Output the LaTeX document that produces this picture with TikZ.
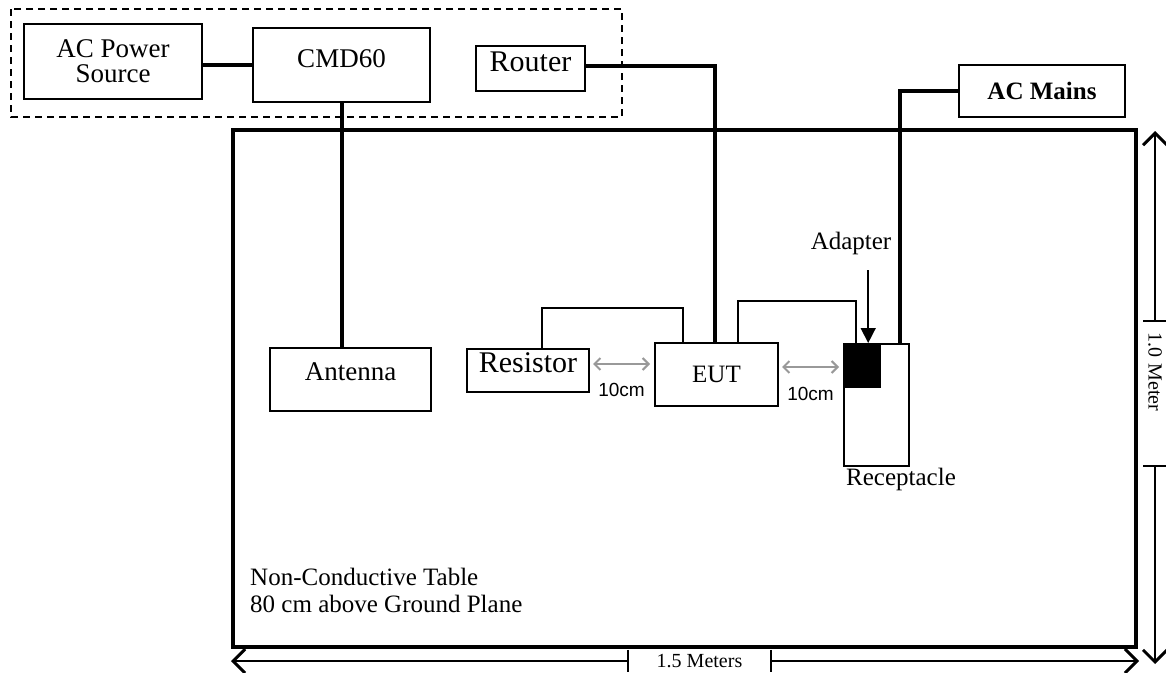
\documentclass[tikz,border=0pt]{standalone}
\usepackage{fontspec}
\setmainfont{Liberation Serif}
\newfontfamily\arialfont{Liberation Sans}
\usetikzlibrary{arrows.meta, positioning, calc}
\tikzset{
  unit/.style={
    rectangle, draw=black, line width=2pt, fill=white,
    inner sep=0pt, align=center,
    font=\fontsize{27}{25}\selectfont
  },
  lift/.style={text depth=#1},
  wire/.style={line width=4pt, draw=black},
  thinwire/.style={line width=2pt, draw=black},
  gaparrow/.style={
    {Straight Barb[length=6pt,width=12pt]}-{Straight Barb[length=6pt,width=12pt]},
    line width=2pt, draw=black!40
  },
  gaptext/.style={font=\arialfont\fontsize{19}{19}\selectfont, inner sep=0pt},
  dimarrow/.style={-{Straight Barb[length=12pt,width=24pt,line width=3pt]}, line width=1.5pt},
  dimtext/.style={font=\fontsize{20}{20}\selectfont, inner sep=0pt},
  pointer/.style={-{Triangle[length=15pt,width=15pt]}, line width=1.5pt},
  note/.style={font=\fontsize{25}{27}\selectfont, inner sep=0pt}
}
\begin{document}
\begin{tikzpicture}[x=1pt,y=-1pt]
  \useasboundingbox (0,0) rectangle (1166,672);
  \draw[line width=1.5pt, dash pattern=on 7pt off 5pt] (11,9) rectangle (622,117);
  \node[draw, line width=4pt, inner sep=0pt,
        minimum width=903pt, minimum height=517pt] (tbl) at (684.5,388.5) {};

  \node[unit, minimum width=178pt, minimum height=75pt] (acsrc) at (113,61.5) {AC Power\\Source};
  \node[unit, lift=12pt, minimum width=177pt, minimum height=74pt] (cmd) at (341.5,65) {CMD60};
  \node[unit, lift=14pt, minimum width=109pt, minimum height=45pt,
        font=\fontsize{30}{30}\selectfont] (router) at (530.5,68.5) {Router};
  \node[unit, minimum width=166pt, minimum height=52pt,
        font=\bfseries\fontsize{25}{25}\selectfont] (mains) at (1042,91) {AC Mains};
  \node[unit, lift=16pt, minimum width=161pt, minimum height=63pt] (antenna) at (350.5,379.5) {Antenna};
  \node[unit, lift=16pt, minimum width=122pt, minimum height=43pt,
        font=\fontsize{30}{30}\selectfont] (res) at (528,370.5) {Resistor};
  \node[unit, minimum width=123pt, minimum height=63pt,
        font=\fontsize{25}{25}\selectfont] (eut) at (716.5,374.5) {EUT};
  \node[unit, minimum width=65pt, minimum height=122pt] (recept) at (876.5,405) {};
  \node[fill=black, inner sep=0pt, minimum width=38pt, minimum height=45pt,
        anchor=north west] (adblk) at (recept.north west) {};

  \node[note, anchor=south] (adlabel) at (851,255) {Adapter};
  \node[note, anchor=north west] (reclabel) at (846,468) {Receptacle};
  \node[note, anchor=north west, align=left] (tbltxt) at (250,568)
    {Non-Conductive Table\\80 cm above Ground Plane};

  \draw[wire] (acsrc.east |- cmd.west) -- (cmd.west);
  \draw[wire] (cmd.south) -- (cmd.south |- antenna.north);
  \draw[wire] ($(router.east)+(0,-3)$) -| ($(eut.north)+(-1.5,0)$);
  \draw[wire] (mains.west) -| ($(recept.north east)+(-10,0)$);
  \draw[thinwire] ($(res.north)+(14,0)$) -- ++(0,-40) -| ($(eut.north west)+(29,0)$);
  \draw[thinwire] ($(eut.north west)+(84,0)$) -- ++(0,-41) -| ($(recept.north west)+(13,0)$);

  \coordinate (adtip) at ($(adblk.north)+(6,0)$);
  \draw[pointer] ($(adlabel.south -| adtip)+(0,15)$) -- (adtip);

  \draw[gaparrow] ($(res.east)+(3,-6.5)$) -- ($(res.east -| eut.west)+(-4,-6.5)$)
    node[gaptext, midway, below=18pt] {10cm};
  \draw[gaparrow] ($(eut.east)+(3,-7.5)$) -- ($(eut.east -| recept.west)+(-4,-7.5)$)
    node[gaptext, midway, below=19pt] {10cm};

  \node[dimtext, minimum width=143pt, minimum height=22pt] (wlab) at (699.5,661) {1.5 Meters};
  \draw[line width=1.5pt] (wlab.north west) -- (wlab.south west)
    (wlab.north east) -- (wlab.south east);
  \draw[dimarrow] (wlab.west) -- (wlab.west -| tbl.west);
  \draw[dimarrow] (wlab.east) -- ($(wlab.east -| tbl.east)+(1,0)$);

  \node[dimtext, rotate=-90, text width=123pt, inner xsep=11pt, align=left,
        minimum height=23pt] (hlab) at (1155,393.5) {1.0 Meter};
  \draw[line width=1.5pt] (hlab.north west) -- (hlab.south west)
    (hlab.north east) -- (hlab.south east);
  \draw[dimarrow] (hlab.west) -- ($(hlab.west |- tbl.north)+(0,3)$);
  \draw[dimarrow] (hlab.east) -- ($(hlab.east |- tbl.south)+(0,15)$);
\end{tikzpicture}
\end{document}
